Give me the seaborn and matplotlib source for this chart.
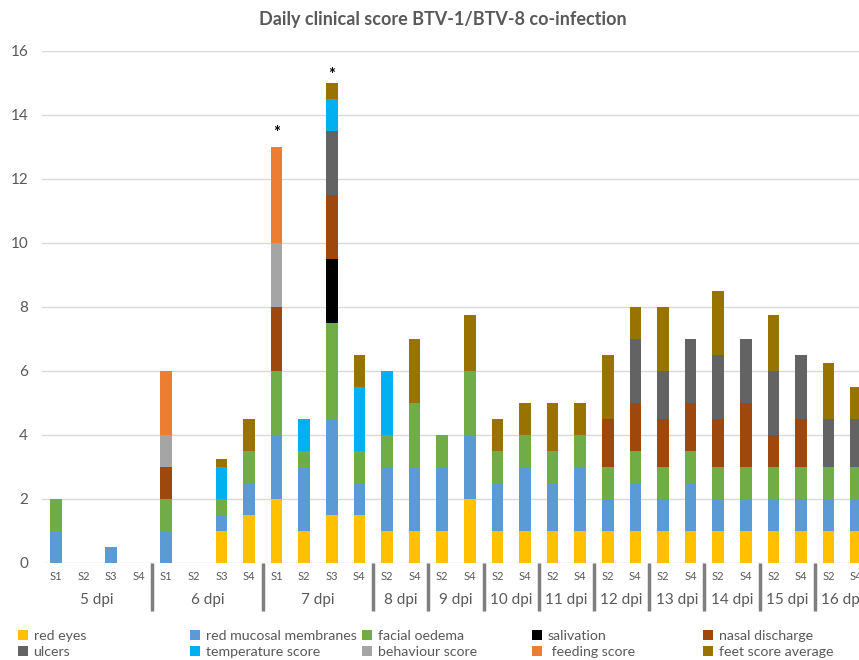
import numpy as np
import pandas as pd
import matplotlib
matplotlib.use("Agg")
import matplotlib.pyplot as plt
from matplotlib.patches import Patch
import seaborn as sns

# bar labels: sampled animals per day post infection
day_labels = ['5 dpi', '6 dpi', '7 dpi', '8 dpi', '9 dpi', '10 dpi', '11 dpi',
              '12 dpi', '13 dpi', '14 dpi', '15 dpi', '16 dpi']
day_sizes = [4, 4, 4, 2, 2, 2, 2, 2, 2, 2, 2, 2]
sample_labels = ['S1', 'S2', 'S3', 'S4'] * 3 + ['S2', 'S4'] * 9

# clinical score components (bottom to top of each stack)
red_eyes = [0, 0, 0, 0, 0, 0, 1, 1.5, 2, 1, 1.5, 1.5, 1, 1, 1, 2,
            1, 1, 1, 1, 1, 1, 1, 1, 1, 1, 1, 1, 1, 1]
red_mucosal = [1, 0, 0.5, 0, 1, 0, 0.5, 1, 2, 2, 3, 1, 2, 2, 2, 2,
               1.5, 2, 1.5, 2, 1, 1.5, 1, 1.5, 1, 1, 1, 1, 1, 1]
facial_oedema = [1, 0, 0, 0, 1, 0, 0.5, 1, 2, 0.5, 3, 1, 1, 2, 1, 2,
                 1, 1, 1, 1, 1, 1, 1, 1, 1, 1, 1, 1, 1, 1]
salivation = [0, 0, 0, 0, 0, 0, 0, 0, 0, 0, 2, 0, 0, 0, 0, 0,
              0, 0, 0, 0, 0, 0, 0, 0, 0, 0, 0, 0, 0, 0]
nasal_discharge = [0, 0, 0, 0, 1, 0, 0, 0, 2, 0, 2, 0, 0, 0, 0, 0,
                   0, 0, 0, 0, 1.5, 1.5, 1.5, 1.5, 1.5, 2, 1, 1.5, 0, 0]
ulcers = [0, 0, 0, 0, 0, 0, 0, 0, 0, 0, 2, 0, 0, 0, 0, 0,
          0, 0, 0, 0, 0, 2, 1.5, 2, 2, 2, 2, 2, 1.5, 1.5]
temperature = [0, 0, 0, 0, 0, 0, 1, 0, 0, 1, 1, 2, 2, 0, 0, 0,
               0, 0, 0, 0, 0, 0, 0, 0, 0, 0, 0, 0, 0, 0]
behaviour = [0, 0, 0, 0, 1, 0, 0, 0, 2, 0, 0, 0, 0, 0, 0, 0,
             0, 0, 0, 0, 0, 0, 0, 0, 0, 0, 0, 0, 0, 0]
feeding = [0, 0, 0, 0, 2, 0, 0, 0, 3, 0, 0, 0, 0, 0, 0, 0,
           0, 0, 0, 0, 0, 0, 0, 0, 0, 0, 0, 0, 0, 0]
feet = [0, 0, 0, 0, 0, 0, 0.25, 1, 0, 0, 0.5, 1, 0, 2, 0, 1.75,
        1, 1, 1.5, 1, 2, 1, 2, 0, 2, 0, 1.75, 0, 1.75, 1]

# significance marks and their gap above the bar
star_bars = [8, 10]
star_gap = [0.45, 0.25]

components = ['red eyes', 'red mucosal membranes', 'facial oedema', 'salivation',
              'nasal discharge', 'ulcers', 'temperature score', 'behaviour score',
              ' feeding score', 'feet score average']
colors = ['#FFC000', '#5B9BD5', '#70AD47', '#000000', '#9E480E',
          '#636363', '#00B0F0', '#A5A5A5', '#ED7D31', '#997300']

df = pd.DataFrame(dict(zip(components, [red_eyes, red_mucosal, facial_oedema, salivation,
                                        nasal_discharge, ulcers, temperature, behaviour,
                                        feeding, feet])))
bars = list(range(len(df)))
cum = df.cumsum(axis=1)

sns.set_theme(style="white")
plt.rcParams['font.family'] = ['Lato', 'DejaVu Sans']
grey = '#595959'

fig = plt.figure(figsize=(8.59, 6.6), dpi=100)
ax = fig.add_axes([42 / 859, 97 / 660, 828 / 859, 512 / 660])

# stacked bars: draw cumulative totals from the top layer down
for comp, col in zip(reversed(components), reversed(colors)):
    h = cum[comp].where(df[comp] > 0)
    sns.barplot(x=bars, y=h, order=bars, color=col, saturation=1, width=0.42,
                errorbar=None, ax=ax, linewidth=0)

ax.set_xlim(-0.5, len(bars) - 0.5)
ax.set_ylim(0, 16)
ax.set_yticks(np.arange(0, 17, 2))
ax.set_xticks(bars)
ax.set_xticklabels(sample_labels, fontsize=8, color=grey)
ax.tick_params(axis='x', length=0, pad=6)
ax.tick_params(axis='y', length=0, pad=10, labelsize=11, labelcolor=grey)
ax.set_xlabel('')
ax.set_ylabel('')
ax.yaxis.grid(True, color='#D9D9D9', lw=1)
ax.set_axisbelow(True)
sns.despine(ax=ax, left=True, bottom=True, top=True, right=True)

# day groups and separators under the axis
tr = ax.get_xaxis_transform()
start = 0
for i, (lab, n) in enumerate(zip(day_labels, day_sizes)):
    ax.text(start + (n - 1) / 2, -0.072, lab, transform=tr, ha='center', va='center',
            fontsize=11, color=grey, clip_on=False)
    if i > 0:
        ax.plot([start - 0.5, start - 0.5], [0, -0.094], transform=tr, color='#7F7F7F',
                lw=2.5, clip_on=False, solid_capstyle='butt')
    start += n

for b, g in zip(star_bars, star_gap):
    ax.text(b, df.loc[b].sum() + g, '*', ha='center', va='center', fontsize=12,
            fontweight='bold', color='black')

fig.text(443 / 859, 1 - 20 / 660, 'Daily clinical score BTV-1/BTV-8 co-infection',
         ha='center', va='center', fontsize=13, fontweight='bold', color=grey)

# legend: five columns of two entries
handles = [Patch(facecolor=c, edgecolor='none', label=l) for l, c in zip(components, colors)]
col_x = [18, 190, 362, 532, 703]
for k, x in enumerate(col_x):
    fig.legend(handles=[handles[k], handles[k + 5]], loc='upper left',
               bbox_to_anchor=(x / 859, 1 - 630 / 660), frameon=False, fontsize=10.2,
               handlelength=0.7, handleheight=0.7, handletextpad=0.4, borderpad=0,
               borderaxespad=0, labelspacing=0.3, labelcolor=grey)

fig.savefig('out.png', dpi=100)
